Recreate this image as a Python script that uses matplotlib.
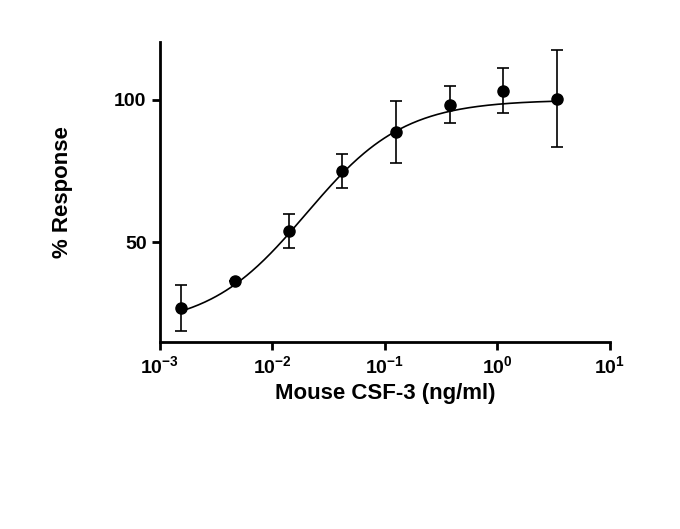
import numpy as np
import matplotlib
matplotlib.use("Agg")
import matplotlib.pyplot as plt

plt.rcParams["font.family"] = "Liberation Sans"
plt.rcParams["font.weight"] = "bold"

conc = [0.00155, 0.00466, 0.014, 0.042, 0.126, 0.378, 1.13, 3.4]
response = [26.8, 36.3, 53.9, 75.0, 88.7, 98.2, 103.2, 100.4]
err = [8, 0, 6, 6, 11, 6.5, 8, 17]
bottom, top, ec50, hill = 20.0, 100.0, 0.02, 1.0

fig = plt.figure(figsize=(6.8, 5.29), dpi=100)
ax = fig.add_axes([0.235, 0.353, 0.662, 0.568])
xs = np.logspace(np.log10(0.0015), np.log10(3.4), 300)
ax.plot(xs, bottom + (top - bottom) / (1 + (ec50 / xs) ** hill), color="black", lw=1.2)
ax.errorbar(conc, response, yerr=err, fmt="o", color="black", ms=8, capsize=4, elinewidth=1.2, capthick=1.2)
ax.set_xscale("log")
ax.set_xlim(1e-3, 1e1)
ax.set_ylim(14.8, 120.4)
ax.set_yticks([50, 100])
ax.minorticks_off()
ax.set_xticks([1e-3, 1e-2, 1e-1, 1e0, 1e1])
for s in ["top", "right"]:
    ax.spines[s].set_visible(False)
for s in ["left", "bottom"]:
    ax.spines[s].set_linewidth(2)
ax.tick_params(width=2, length=6, labelsize=14)
ax.set_xlabel("Mouse CSF-3 (ng/ml)", fontsize=16, fontweight="bold")
ax.set_ylabel("% Response", fontsize=16, fontweight="bold", labelpad=30)
fig.savefig("out.png", dpi=100)
